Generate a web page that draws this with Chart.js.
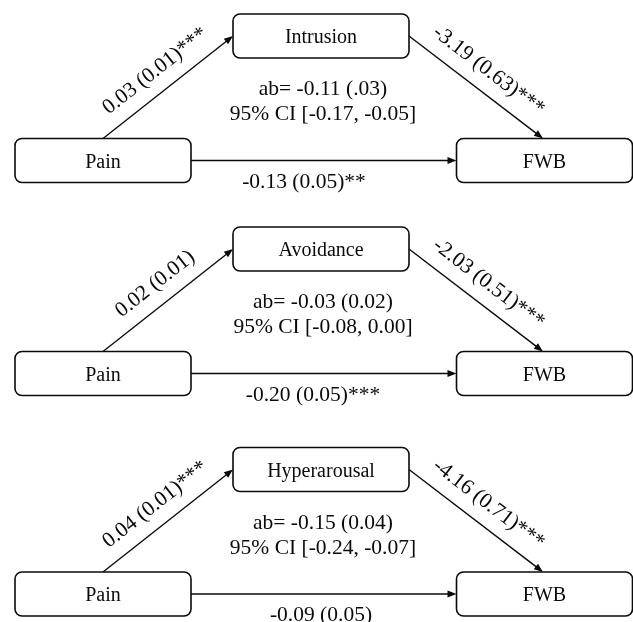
<!DOCTYPE html>
<html>
<head>
<meta charset="utf-8">
<script src="https://cdn.jsdelivr.net/npm/chart.js@4.4.1/dist/chart.umd.min.js"></script>
<style>
  html, body { margin: 0; padding: 0; background: #fff; }
  #wrap { width: 633px; height: 622px; position: relative; }
</style>
</head>
<body>
<div id="wrap"><canvas id="diagram"></canvas></div>
<script>
/* =========================
   Data
========================= */
const predictor = "Pain";
const outcome = "FWB";
const mediators = ["Intrusion", "Avoidance", "Hyperarousal"];
const aPath = ["0.03 (0.01)***", "0.02 (0.01)", "0.04 (0.01)***"];
const bPath = ["-3.19 (0.63)***", "-2.03 (0.51)***", "-4.16 (0.71)***"];
const cPath = ["-0.13 (0.05)**", "-0.20 (0.05)***", "-0.09 (0.05)"];
const abEffect = ["ab= -0.11 (.03)", "ab= -0.03 (0.02)", "ab= -0.15 (0.04)"];
const abCI = ["95% CI [-0.17, -0.05]", "95% CI [-0.08, 0.00]", "95% CI [-0.24, -0.07]"];

/* =========================
   Layout (diagram units)
========================= */
const colX = [103, 321, 544.5];      // predictor, mediator, outcome
const panelTop = [0, 213, 433.5];
const rowY = [36, 160.5];            // mediator row, bottom row
const cLabelX = [304, 313, 321];

const BOX_W = 176, BOX_H = 44, RADIUS = 7;
const INK = "#0a0a0a";
const FONT_NODE = "20px 'Liberation Serif', 'Times New Roman', serif";
const FONT_LAB = "21.5px 'Liberation Serif', 'Times New Roman', serif";

// one point per node, the plugin draws them through the scales
const nodes = [];
mediators.forEach((m, i) => {
  nodes.push({ x: colX[0], y: panelTop[i] + rowY[1], label: predictor });
  nodes.push({ x: colX[1], y: panelTop[i] + rowY[0], label: m });
  nodes.push({ x: colX[2], y: panelTop[i] + rowY[1], label: outcome });
});

/* =========================
   Drawing helpers
========================= */
function roundBox(ctx, cx, cy, w, h, r) {
  const x = cx - w / 2, y = cy - h / 2;
  ctx.beginPath();
  ctx.moveTo(x + r, y);
  ctx.lineTo(x + w - r, y);
  ctx.arcTo(x + w, y, x + w, y + r, r);
  ctx.lineTo(x + w, y + h - r);
  ctx.arcTo(x + w, y + h, x + w - r, y + h, r);
  ctx.lineTo(x + r, y + h);
  ctx.arcTo(x, y + h, x, y + h - r, r);
  ctx.lineTo(x, y + r);
  ctx.arcTo(x, y, x + r, y, r);
  ctx.closePath();
  ctx.fillStyle = "#fff";
  ctx.fill();
  ctx.lineWidth = 1.6;
  ctx.strokeStyle = INK;
  ctx.stroke();
}

function arrow(ctx, x1, y1, x2, y2) {
  const ang = Math.atan2(y2 - y1, x2 - x1);
  const len = 9, half = 3.5;
  ctx.beginPath();
  ctx.moveTo(x1, y1);
  ctx.lineTo(x2 - Math.cos(ang) * len * 0.8, y2 - Math.sin(ang) * len * 0.8);
  ctx.lineWidth = 1.4;
  ctx.strokeStyle = INK;
  ctx.stroke();
  ctx.beginPath();
  ctx.moveTo(x2, y2);
  ctx.lineTo(x2 - Math.cos(ang) * len + Math.sin(ang) * half, y2 - Math.sin(ang) * len - Math.cos(ang) * half);
  ctx.lineTo(x2 - Math.cos(ang) * len - Math.sin(ang) * half, y2 - Math.sin(ang) * len + Math.cos(ang) * half);
  ctx.closePath();
  ctx.fillStyle = INK;
  ctx.fill();
}

function slantLabel(ctx, text, x1, y1, x2, y2, off) {
  const ang = Math.atan2(y2 - y1, x2 - x1);
  ctx.save();
  ctx.translate((x1 + x2) / 2, (y1 + y2) / 2);
  ctx.rotate(ang);
  ctx.font = FONT_LAB;
  ctx.textAlign = "center";
  ctx.textBaseline = "alphabetic";
  ctx.fillStyle = INK;
  ctx.fillText(text, 0, -off);
  ctx.restore();
}

const mediationPlugin = {
  id: "mediation",
  afterDatasetsDraw(chart) {
    const ctx = chart.ctx;
    const sx = chart.scales.x, sy = chart.scales.y;
    const px = v => sx.getPixelForValue(v);
    const py = v => sy.getPixelForValue(v);

    mediators.forEach((m, i) => {
      const xP = px(colX[0]), xM = px(colX[1]), xY = px(colX[2]);
      const yM = py(panelTop[i] + rowY[0]), yB = py(panelTop[i] + rowY[1]);

      // paths a, b, c'
      const a = [xP, yB - BOX_H / 2, xM - BOX_W / 2, yM];
      const b = [xM + BOX_W / 2, yM, xY - 1.5, yB - BOX_H / 2];
      const c = [xP + BOX_W / 2, yB, xY - BOX_W / 2, yB];
      arrow(ctx, ...a);
      arrow(ctx, ...b);
      arrow(ctx, ...c);

      slantLabel(ctx, aPath[i], ...a, 15);
      slantLabel(ctx, bPath[i], ...b, 15);

      ctx.font = FONT_LAB;
      ctx.fillStyle = INK;
      ctx.textAlign = "center";
      ctx.textBaseline = "alphabetic";
      ctx.fillText(cPath[i], px(cLabelX[i]), yB + 27);
      ctx.fillText(abEffect[i], xM + 2, yM + 59);
      ctx.fillText(abCI[i], xM + 2, yM + 84);
    });

    // boxes
    chart.getDatasetMeta(0).data.forEach((pt, k) => {
      roundBox(ctx, pt.x, pt.y, BOX_W, BOX_H, RADIUS);
      ctx.font = FONT_NODE;
      ctx.fillStyle = INK;
      ctx.textAlign = "center";
      ctx.textBaseline = "alphabetic";
      ctx.fillText(nodes[k].label, pt.x, pt.y + 7);
    });
  }
};

new Chart(document.getElementById("diagram"), {
  type: "scatter",
  data: {
    datasets: [{
      data: nodes.map(n => ({ x: n.x, y: n.y })),
      pointRadius: 0,
      pointHoverRadius: 0
    }]
  },
  options: {
    responsive: true,
    maintainAspectRatio: false,
    animation: false,
    events: [],
    layout: { padding: 0 },
    scales: {
      x: { type: "linear", min: 0, max: 633, display: false },
      y: { type: "linear", min: 0, max: 622, reverse: true, display: false }
    },
    plugins: { legend: { display: false }, tooltip: { enabled: false } }
  },
  plugins: [mediationPlugin]
});
</script>
</body>
</html>
